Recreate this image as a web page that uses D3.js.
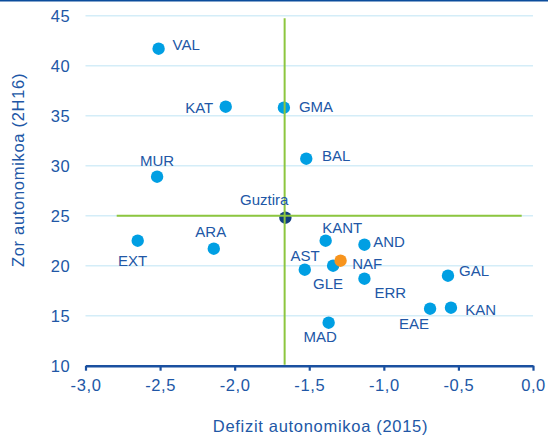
<!DOCTYPE html>
<html>
<head>
<meta charset="utf-8">
<script src="https://cdn.jsdelivr.net/npm/d3@7"></script>
<style>
  html, body { margin: 0; padding: 0; background: #fff; }
  svg { display: block; font-family: "Liberation Sans", Arial, sans-serif; }
</style>
</head>
<body>
<script>
// ---- data ----
const regions = ["VAL","KAT","GMA","BAL","MUR","Guztira","EXT","ARA","KANT","AND","AST","GLE","NAF","ERR","GAL","EAE","KAN","MAD"];
const deficit = [-2.51,-2.06,-1.67,-1.52,-2.52,-1.66,-2.65,-2.14,-1.39,-1.13,-1.53,-1.34,-1.29,-1.13,-0.57,-0.69,-0.55,-1.37];
const debt    = [41.7, 35.9, 35.8, 30.7, 28.9, 24.8, 22.5, 21.7, 22.5, 22.1, 19.6, 20.0, 20.5, 18.7, 19.0, 15.7, 15.8, 14.3];
const meanDeficit = -1.665;
const meanDebt = 25.0;
const xTicks = [-3.0,-2.5,-2.0,-1.5,-1.0,-0.5,0.0];
const yTicks = [10,15,20,25,30,35,40,45];
const xTitle = "Defizit autonomikoa (2015)";
const yTitle = "Zor autonomikoa (2H16)";

// ---- label layout (pixel offsets from each point) ----
const labelLayout = {
  VAL:["start",14,1.7], KAT:["end",-12.5,6], GMA:["start",15,4], BAL:["start",15.7,2],
  MUR:["middle",0,-10.6], Guztira:["end",3,-12.7], EXT:["middle",-5,25.7], ARA:["middle",-3,-11.3],
  KANT:["start",-3.4,-8], AND:["start",8.7,2.7], AST:["middle",0.3,-8.3], NAF:["start",11.7,8.3],
  GLE:["middle",-5,23.7], ERR:["start",10,19.6], GAL:["start",11,0], EAE:["end",-1,20],
  KAN:["start",14.3,7.3], MAD:["middle",-8.5,19.3]
};

const W = 548, H = 439;
const textBlue = "#2157a6", axisBlue = "#1a50a0", dotBlue = "#009fe3";
const green = "#8dc63f", orange = "#f7941d", navy = "#123f7f", grid = "#d4edf8";

const svg = d3.select("body").append("svg").attr("width", W).attr("height", H);

const x = d3.scaleLinear().domain([-3, 0]).range([85.5, 533]);
const y = d3.scaleLinear().domain([10, 45]).range([365.7, 15.7]);

// top border
svg.append("line").attr("x1",0).attr("x2",W).attr("y1",0.75).attr("y2",0.75)
  .attr("stroke","#0b4c9c").attr("stroke-width",1.5);

// gridlines
svg.append("g").selectAll("line").data(yTicks.filter(d => d > 10)).join("line")
  .attr("x1", x(-3)).attr("x2", x(0))
  .attr("y1", d => y(d)).attr("y2", d => y(d))
  .attr("stroke", grid).attr("stroke-width", 1.6);

// y tick labels
svg.append("g").selectAll("text").data(yTicks).join("text")
  .attr("x", 70).attr("y", d => y(d) + 6)
  .attr("text-anchor","end").attr("fill", textBlue)
  .style("font-size","16.5px").style("letter-spacing","0.4px")
  .text(d => d);

// x axis
const xAxis = d3.axisBottom(x).tickValues(xTicks).tickSizeInner(5).tickSizeOuter(0)
  .tickFormat(d => d3.format(".1f")(d).replace(".", ",").replace("−","-"));
const gx = svg.append("g").attr("transform", `translate(0,${y(10)})`).call(xAxis);
gx.select(".domain").attr("stroke", axisBlue).attr("stroke-width", 2.6);
gx.selectAll(".tick line").attr("stroke", axisBlue).attr("stroke-width", 2.2);
gx.selectAll(".tick text").attr("fill", textBlue).attr("y", 10).attr("dy", "0.95em")
  .style("font-size","16.5px").style("letter-spacing","0.6px")
  .style("font-family", '"Liberation Sans", Arial, sans-serif');

// points
const pts = regions.map((r, i) => ({r, x: deficit[i], y: debt[i]}));
const fillFor = r => r === "NAF" ? orange : (r === "Guztira" ? navy : dotBlue);
svg.append("g").selectAll("circle").data(pts).join("circle")
  .attr("cx", d => x(d.x)).attr("cy", d => y(d.y)).attr("r", 6.2)
  .attr("fill", d => fillFor(d.r));

// mean lines (drawn over points)
svg.append("line")
  .attr("x1", x(meanDeficit)).attr("x2", x(meanDeficit))
  .attr("y1", 18.3).attr("y2", y(10) - 1)
  .attr("stroke", green).attr("stroke-width", 2);
svg.append("line")
  .attr("x1", 116.7).attr("x2", 521.7)
  .attr("y1", y(meanDebt)).attr("y2", y(meanDebt))
  .attr("stroke", green).attr("stroke-width", 2);

// labels
svg.append("g").selectAll("text").data(pts).join("text")
  .attr("x", d => x(d.x) + labelLayout[d.r][1])
  .attr("y", d => y(d.y) + labelLayout[d.r][2])
  .attr("text-anchor", d => labelLayout[d.r][0])
  .attr("fill", textBlue).style("font-size","15px")
  .text(d => d.r);

// axis titles
svg.append("text").attr("x", 320.5).attr("y", 431.7).attr("text-anchor","middle")
  .attr("fill", textBlue).style("font-size","16.5px").style("letter-spacing","0.7px")
  .text(xTitle);
svg.append("text").attr("transform","translate(23.5,170) rotate(-90)").attr("text-anchor","middle")
  .attr("fill", textBlue).style("font-size","16.5px").style("letter-spacing","0.7px")
  .text(yTitle);
</script>
</body>
</html>
